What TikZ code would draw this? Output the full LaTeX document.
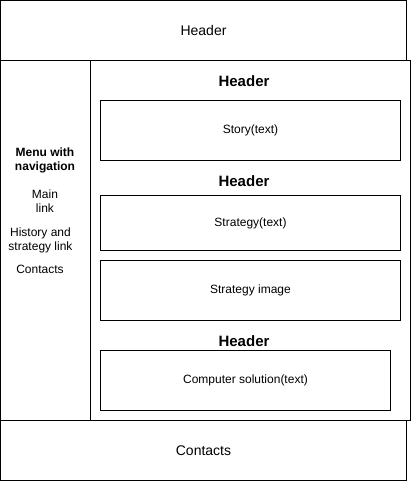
\documentclass[tikz,border=0pt]{standalone}
\usepackage{fontspec}
\setmainfont{Liberation Sans}
\begin{document}
\begin{tikzpicture}[x=1pt,y=-1pt,
  box/.style={draw=black, line width=1pt, rectangle, inner sep=0pt, font=\fontsize{12}{14}\selectfont},
  bigbox/.style={box, font=\fontsize{14}{16}\selectfont},
  lbl/.style={inner sep=0pt, align=center, font=\fontsize{12}{14}\selectfont},
  hdr/.style={inner sep=0pt, font=\fontsize{15}{17}\selectfont\bfseries}]
\useasboundingbox (0,0) rectangle (411,481);
\fill[white] (0,0) rectangle (411,481);
% frames
\node[bigbox, minimum width=406pt, minimum height=60pt] (top) at (203.5,30.5) {Header};
\node[box, minimum width=90pt, minimum height=360pt] (menu) at (45.5,240.5) {};
\node[box, minimum width=320pt, minimum height=360pt] (content) at (250.5,240.5) {};
\node[bigbox, minimum width=406pt, minimum height=60pt] (foot) at (203.5,450.5) {Contacts};
% content boxes
\node[hdr] (h1) at (244,81) {Header};
\node[box, minimum width=300pt, minimum height=60pt] (story) at (250.5,130.5) {Story(text)};
\node[hdr] (h2) at (244,181) {Header};
\node[box, minimum width=300pt, minimum height=55pt] (strat) at (250.5,223) {Strategy(text)};
\node[box, minimum width=300pt, minimum height=60pt] (img) at (250.5,290.5) {Strategy image};
\node[hdr] (h3) at (244,341) {Header};
\node[box, minimum width=290pt, minimum height=60pt] (comp) at (245.5,380.5) {Computer solution(text)};
% menu texts
\node[lbl, font=\fontsize{12}{14}\selectfont\bfseries] (mnav) at (45,160) {Menu with\\navigation};
\node[lbl] (mmain) at (45,201) {Main\\link};
\node[lbl] (mhist) at (40.5,240.5) {History and\\strategy link};
\node[lbl] (mcont) at (40,269.5) {Contacts};
\end{tikzpicture}
\end{document}
